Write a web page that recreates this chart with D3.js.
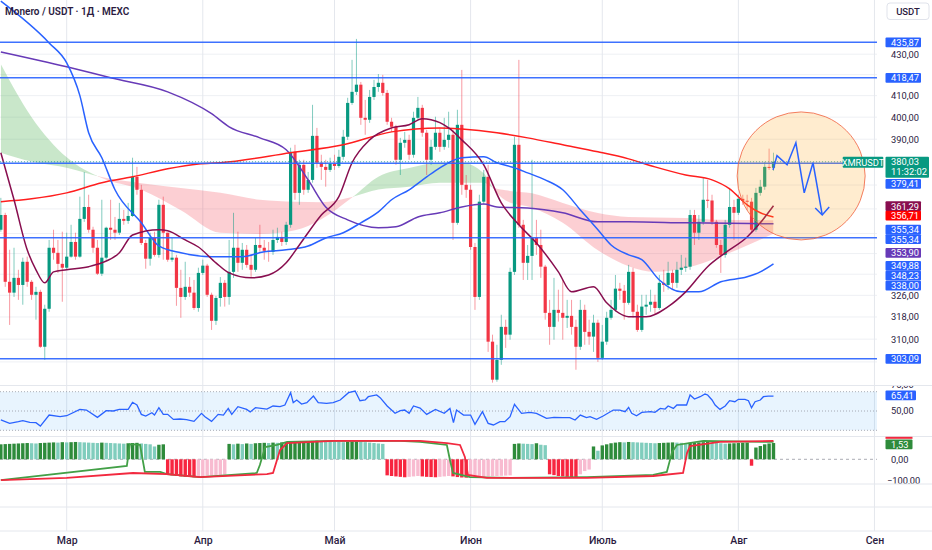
<!DOCTYPE html>
<html>
<head>
<meta charset="utf-8">
<script src="https://cdn.jsdelivr.net/npm/d3@7"></script>
<style>
  body { margin: 0; background: #fff; }
  svg { display: block; font-family: Roboto, "Noto Sans", sans-serif; }
</style>
</head>
<body>
<script>
// ---------- data ----------
// daily candles, first one is 14 Feb 2025 (day -15 from 1 Mar)
const firstDay = -15;
const firstOpen = 351.5;
const closes = [
  357.5, 331.1, 327.0, 332.6, 329.9, 338.8, 331.1, 326.2, 327.3, 307.3,
  321.0, 344.3, 342.3, 338.0, 336.5, 340.8, 346.6, 340.8, 355.9, 360.8,
  351.5, 344.3, 334.2, 340.4, 352.3, 351.5, 350.3, 355.9, 355.1, 357.1,
  373.5, 368.0, 346.2, 340.0, 348.2, 341.5, 361.7, 350.3, 339.6, 340.4,
  328.8, 325.4, 329.2, 327.0, 321.3, 334.5, 337.3, 326.2, 316.6, 325.0,
  330.7, 325.4, 334.9, 344.3, 338.4, 343.5, 337.6, 335.7, 345.4, 344.3,
  343.1, 342.7, 347.4, 348.6, 346.6, 353.5, 384.4, 366.7, 378.7, 368.0,
  372.2, 391.5, 379.6, 377.8, 376.5, 379.1, 378.2, 382.2, 391.1, 406.6,
  411.8, 415.2, 399.7, 398.8, 409.4, 414.1, 416.1, 411.3, 397.9, 395.6,
  380.9, 388.4, 389.7, 383.1, 399.7, 404.3, 392.9, 380.9, 386.6, 392.9,
  386.6, 389.7, 392.0, 354.3, 396.5, 370.1, 368.0, 344.6, 325.4, 363.0,
  373.5, 309.1, 295.9, 302.7, 314.4, 311.6, 334.9, 387.5, 353.5, 338.4,
  341.1, 348.2, 345.4, 336.9, 319.5, 314.4, 320.6, 319.5, 317.7, 318.4,
  314.4, 307.3, 320.6, 312.6, 310.9, 315.9, 303.4, 309.1, 317.7, 320.6,
  328.5, 327.7, 323.2, 334.9, 319.9, 313.3, 321.8, 322.5, 323.6, 321.3,
  330.7, 329.9, 334.5, 330.7, 335.7, 336.5, 336.9, 357.5, 350.3, 354.7,
  363.8, 363.5, 354.7, 345.4, 341.5, 353.5, 360.8, 358.4, 364.2, 363.4,
  363.0, 351.5, 366.7, 369.3, 377.8, 377.4, 380.03
];
const highs = [
  364.6, 358.4, 343.5, 344.3, 335.7, 340.4, 340.8, 331.8, 329.2, 328.1,
  322.5, 347.4, 351.5, 347.4, 350.7, 350.3, 353.5, 350.3, 365.1, 375.6,
  365.9, 352.7, 347.4, 363.8, 352.7, 363.8, 356.7, 362.5, 359.6, 362.5,
  381.8, 377.8, 370.1, 347.4, 350.3, 350.7, 363.8, 365.1, 350.3, 348.2,
  341.5, 335.7, 338.8, 332.9, 331.8, 336.5, 339.6, 338.0, 327.0, 325.8,
  332.9, 331.8, 347.4, 358.4, 350.7, 346.2, 345.4, 341.5, 348.2, 353.5,
  347.4, 346.6, 351.5, 352.3, 350.7, 354.7, 386.2, 387.5, 380.9, 380.9,
  375.6, 405.7, 395.1, 383.1, 380.9, 381.8, 383.1, 385.3, 394.2, 409.0,
  427.2, 437.6, 416.5, 408.0, 412.7, 417.5, 420.3, 419.9, 412.7, 399.7,
  396.5, 390.6, 393.3, 392.0, 402.5, 409.4, 405.7, 394.2, 389.7, 400.2,
  395.1, 399.7, 402.5, 394.2, 403.4, 422.3, 374.3, 370.1, 346.2, 365.9,
  376.5, 378.7, 311.6, 308.0, 318.8, 317.0, 336.5, 391.1, 427.2, 355.5,
  345.4, 380.9, 355.5, 351.5, 337.6, 324.3, 332.6, 328.1, 331.8, 324.3,
  324.3, 317.0, 324.3, 322.5, 317.0, 318.8, 317.0, 315.1, 319.9, 324.3,
  333.7, 330.7, 329.9, 337.6, 336.5, 322.5, 326.2, 326.2, 328.1, 326.2,
  333.7, 335.7, 338.8, 335.7, 338.8, 341.5, 340.4, 359.6, 359.6, 357.5,
  373.1, 372.2, 365.9, 355.5, 347.4, 355.5, 368.8, 363.8, 365.9, 365.9,
  365.9, 364.6, 368.8, 372.2, 380.0, 385.8, 384.0
];
const lows = [
  350.7, 329.2, 315.1, 325.4, 324.3, 322.5, 329.2, 324.3, 317.0, 306.9,
  302.7, 319.9, 339.6, 334.5, 323.6, 335.7, 340.4, 339.6, 340.4, 354.7,
  350.3, 342.3, 333.7, 333.3, 339.6, 347.4, 347.4, 349.4, 353.5, 353.9,
  356.7, 365.9, 345.4, 336.1, 337.3, 340.8, 340.4, 339.6, 338.8, 338.8,
  322.1, 317.7, 324.3, 325.4, 320.6, 319.9, 333.7, 325.4, 313.3, 315.1,
  321.8, 321.8, 322.5, 332.6, 334.9, 335.7, 336.5, 332.6, 334.9, 342.7,
  339.6, 338.8, 341.5, 346.2, 345.0, 345.4, 352.3, 363.8, 361.7, 365.9,
  366.7, 371.0, 377.4, 372.2, 369.3, 375.6, 376.5, 377.4, 380.9, 389.7,
  405.7, 410.3, 396.5, 392.0, 397.4, 408.0, 411.8, 410.0, 396.5, 393.3,
  378.7, 374.3, 386.2, 380.9, 381.8, 398.8, 391.1, 374.3, 378.7, 385.3,
  384.4, 385.3, 386.2, 347.4, 353.5, 365.9, 364.6, 343.5, 320.6, 324.3,
  361.7, 305.5, 294.9, 295.2, 301.0, 306.9, 309.8, 333.7, 352.3, 331.8,
  331.8, 331.8, 341.5, 332.6, 317.0, 308.0, 309.8, 316.3, 309.8, 314.0,
  311.6, 299.3, 306.2, 308.0, 308.0, 305.5, 302.0, 302.7, 308.0, 317.0,
  319.9, 324.3, 317.0, 322.5, 317.7, 312.6, 312.6, 318.8, 319.9, 318.8,
  320.6, 327.3, 328.1, 328.1, 328.8, 333.7, 334.9, 335.7, 345.4, 347.4,
  353.5, 360.4, 353.5, 344.3, 334.5, 340.4, 352.3, 347.4, 357.5, 361.7,
  359.6, 350.3, 350.7, 365.5, 368.0, 376.5, 376.1
];

// moving averages, sampled as [day from 1 Mar, price]
const maBlue = [[-15, 457], [-4, 435.6], [0, 425.7], [3, 410.0], [5, 392.9], [8, 381.8],
  [11, 368.0], [17, 354.3], [21, 345.0], [26, 342.3], [33, 340.8], [40, 340.8],
  [45, 342.7], [50, 343.5], [55, 345.0], [59, 348.2], [63, 350.3], [67, 354.3],
  [71, 358.8], [74, 363.8], [78, 368.0], [82, 373.5], [85, 377.4], [90, 381.8],
  [95, 382.2], [98, 379.6], [102, 377.4], [105, 375.2], [109, 372.2], [113, 368.0],
  [117, 359.6], [121, 351.5], [124, 345.4], [128, 341.5], [131, 339.6], [135, 331.8],
  [140, 327.3], [144, 327.3], [149, 331.1], [155, 333.0], [158, 334.9], [161, 338.0]];
const maPurple = [[-15, 431.1], [0, 423.8], [10, 418.5], [23, 411.8], [33, 401.6],
  [37, 395.6], [44, 390.6], [50, 385.3], [55, 372.2], [59, 360.8], [64, 355.5],
  [71, 352.3], [75, 352.7], [80, 356.7], [85, 358.4], [90, 360.8], [95, 362.0],
  [98, 360.8], [105, 360.4], [113, 358.4], [121, 354.7], [128, 354.7], [141, 354.3],
  [161, 353.9]];
const maRed = [[-15, 363.0], [-8, 364.2], [0, 366.7], [8, 371.0], [15, 373.5],
  [23, 377.0], [30, 379.1], [35, 379.6], [51, 384.0], [63, 387.5], [74, 393.3],
  [85, 395.1], [90, 394.6], [98, 392.9], [105, 390.6], [113, 387.5], [121, 384.4],
  [128, 381.3], [134, 377.8], [141, 374.3], [147, 372.2], [151, 368.4], [155, 361.7],
  [158, 358.4], [161, 356.7]];
const maMaroon = [[-15, 384.0], [-12, 363.8], [-9, 343.5], [-7, 335.7], [-5, 330.7],
  [-3, 334.9], [0, 335.7], [5, 336.9], [8, 338.4], [12, 342.3], [15, 349.4],
  [21, 351.5], [23, 351.1], [27, 347.4], [30, 344.6], [34, 338.4], [37, 334.5],
  [42, 332.6], [46, 333.7], [50, 338.4], [53, 345.4], [58, 357.5], [62, 365.1],
  [65, 379.6], [69, 389.7], [74, 395.1], [78, 396.5], [81, 399.3], [85, 397.5],
  [87, 395.1], [90, 389.7], [95, 378.7], [99, 362.5], [103, 353.5], [107, 346.2],
  [112, 334.9], [115, 327.3], [120, 329.2], [123, 323.2], [128, 318.1], [132, 318.1],
  [137, 321.8], [141, 327.3], [146, 336.9], [150, 342.3], [155, 348.6], [158, 354.3],
  [161, 361.3]];

// cloud between a fast and a slow average
const cloudDays = [-15, -8, 0, 8, 17, 26, 35, 44, 52, 58, 65, 71, 78, 85, 90, 95, 97,
  100, 106, 113, 121, 128, 134, 141, 149, 156, 161];
const cloudFast = [425, 400, 382, 373, 368, 359.5, 350.3, 349.8, 351.3, 355.8, 364.8,
  373.6, 377.3, 379.6, 379.6, 375, 369, 363.5, 360.5, 354.3, 343.3, 337.1, 334.9,
  336.4, 340.9, 346, 349.9];
const cloudSlow = [384, 380.1, 377.4, 373.4, 370.8, 368.8, 366.7, 363.8, 363, 362.8,
  365, 368.1, 369.3, 371, 371, 371, 369, 367.8, 366.5, 362.5, 358.3, 356.7, 356.5,
  356.3, 355.5, 355.4, 355.3];

// horizontal levels
const levels = [435.87, 418.47, 379.41, 348.23, 303.09];

// drawn forecast path and circle centre [day, price]
const forecast = [[160.9, 376.5], [161.8, 382.7], [164.1, 378.7], [166.1, 388.4],
  [168.0, 366.7], [170.0, 379.6], [172.1, 357.5]];
const circleCentre = [167.3, 373.9];

// RSI [day, value]
const rsi = [[-15, 40.7], [-13, 37.2], [-11, 38.9], [-10, 40.0], [-8.4, 38.2], [-7, 37.9],
  [-6, 34.4], [-4, 45.8], [-1.5, 44.1], [0, 45.1], [3, 51.7], [4.5, 51.0], [7, 43.4],
  [9, 50.3], [10.6, 50.0], [12, 51.7], [14, 51.7], [15, 59.0], [16, 56.2], [17, 46.5],
  [18, 44.8], [19.4, 48.2], [20, 45.8], [21, 53.4], [22, 46.5], [23, 46.5], [24.3, 41.3],
  [25.8, 41.7], [27.3, 41.0], [29, 39.3], [30.7, 47.6], [31.5, 44.1], [33, 39.3],
  [34.5, 46.5], [35.7, 45.8], [36.8, 52.7], [37.6, 46.5], [39, 54.5], [41, 51.7],
  [41.8, 49.0], [43, 53.4], [45.6, 52.0], [47, 55.2], [48.6, 54.5], [49.7, 56.2],
  [51, 69.0], [51.6, 58.6], [52.4, 61.4], [53.5, 57.2], [54.7, 58.6], [56.2, 65.5],
  [57.3, 58.6], [59.2, 57.9], [60.7, 58.6], [62.3, 61.4], [64.2, 69.0], [65.7, 70.7],
  [66.8, 60.7], [68, 61.4], [68.7, 64.8], [70.6, 66.6], [71.4, 63.8], [73, 55.2],
  [74.8, 47.6], [76, 50.3], [77, 51.0], [78, 47.6], [79, 55.2], [80.5, 53.0], [82, 46.5],
  [84, 51.7], [86, 47.6], [87.3, 52.7], [88.1, 37.9], [88.8, 51.0], [90.4, 45.8],
  [92, 45.8], [93, 36.2], [94.7, 49.3], [96, 37.2], [97.2, 35.5], [98.7, 38.9],
  [99.8, 38.9], [101, 44.1], [102, 56.9], [103.6, 47.6], [105.5, 48.6], [107, 47.6],
  [109.3, 42.4], [111, 43.4], [113, 43.1], [114.6, 43.1], [115.8, 40.7], [117, 45.8],
  [118.4, 43.1], [119.2, 44.1], [120.7, 41.3], [122.2, 44.8], [124.5, 51.0], [126, 51.0],
  [127.2, 49.3], [128, 53.8], [128.7, 47.6], [129.8, 45.1], [131, 48.6], [133, 49.3],
  [134, 48.6], [135.2, 52.7], [136.3, 52.0], [137, 55.2], [138.2, 52.7], [139, 56.2],
  [141.2, 56.2], [142, 66.6], [143, 62.4], [144.3, 64.8], [145.4, 67.6], [146, 66.6],
  [147, 61.4], [147.7, 56.2], [148.8, 51.7], [150, 55.2], [151, 60.7], [152.2, 59.6],
  [153, 62.1], [154.5, 62.1], [155.3, 60.7], [156, 53.4], [156.8, 59.6], [158, 61.4],
  [158.7, 64.8], [159.8, 65.5], [161, 65.41]];

// lower oscillator histogram, one bar per candle
const hist = [
  70, 71, 72, 73, 74, 75, 76, 75, 74, 76, 77, 78, 79, 78, 80, 79, 80, 81, 80, 79,
  78, 77, 76, 78, 77, 76, 75, 74, 73, 75, 76, 77, 74, 72, 70, 60, 68, 70,
  -70, -75, -78, -80, -82, -83, -84, -80, -78, -76, -75, -74, -73, -72,
  72, 70, 73, 71, 74, 72, 75, 76, 77, 76, 78, 77, 79, 80, 81, 82, 83, 84, 85, 86, 87,
  85, 84, 83, 82, 81, 80, 82, 83, 84, 82, 80, 78, 76, 74, 72,
  -75, -78, -80, -82, -84, -82, -80, -78, -80, -82, -83, -84, -82, -80, -78,
  -80, -83, -85, -86, -84, -83, -82, -81, -80, -79, -78, -77, -76, -75,
  72, 74, 73, 72, 71, 75, 68, 66, -70, -74, -78, -80, -82, -83, -84, -70, -55, -48,
  60, 40, 65, 70, 75, 78, 80, 79, 81, 80, 79, 78, 77, 76, 75, 76, 77, 78, 79,
  78, 77, 76, 77, 78, 79, 80, 81, 78, 76, 75, 73, 74, 75, 76, 77, 78, -30,
  55, 62, 70, 74, 76
];
// oscillator signal lines [day, value]
const oscGreen = [[-15, -97], [13.7, -31], [14.4, 71], [16.7, 67], [17.8, -59], [21.3, -59],
  [22.8, -69], [30.4, -83], [43.3, -64], [44, -27], [45.2, 57], [47.9, 67], [50.2, 81],
  [60.7, 86], [75.9, 86], [80.5, 81], [86.6, 67], [87.3, -3], [88, -64], [91.9, -83],
  [101, -87], [118.5, -83], [133.6, -73], [136.7, -59], [137.9, 34], [139, 67],
  [145, 86], [161, 81]];
const oscRed = [[-15, -97], [0, -87], [15.1, -64], [22.8, -69], [30.4, -83], [45.6, -69],
  [47, -64], [48.6, 43], [50.2, 76], [60.7, 86], [75.9, 86], [80.5, 86], [86.6, 76],
  [89.6, 67], [90.7, 11], [91.4, -73], [95.7, -87], [118.5, -87], [133.6, -78],
  [140.4, -64], [141.3, 29], [142, 62], [148.8, 81], [161, 86]];

const monthNames = ["Мар", "Апр", "Май", "Июн", "Июль", "Авг", "Сен"];
const priceTicks = [430, 420, 410, 400, 390, 380, 370, 360, 350, 342, 334, 326, 318, 310, 302];
const shownTicks = [430, 410, 400, 390, 326, 318, 310];

// ---------- layout ----------
const W = 932, H = 550, plotW = 877;
const mainTop = 0, mainBottom = 385;
const rsiTop = 386, rsiBottom = 436;
const oscTop = 437, oscBottom = 484;
const textColor = "#2b1b3f";
const up = "#089981", down = "#f23645";
const blue = "#2962ff";
const tagFont = 9.3;

const mar1 = Date.UTC(2025, 2, 1);
const at = d => new Date(mar1 + d * 864e5);

const x = d3.scaleUtc().domain([at(-15), at(184)]).range([0.85, 874.46]);
const y = d3.scaleLog().domain([294.1, 457.6]).range([mainBottom, mainTop]);
const yRsi = d3.scaleLinear().domain([30, 70]).range([430.3, 391.7]);
const yOsc = d3.scaleLinear().domain([-100, 100]).range([480.7, 437.9]);

const svg = d3.select("body").append("svg")
  .attr("width", W).attr("height", H);

const defs = svg.append("defs");
defs.append("clipPath").attr("id", "clipMain")
  .append("rect").attr("x", 0).attr("y", mainTop).attr("width", plotW).attr("height", mainBottom - mainTop);
defs.append("clipPath").attr("id", "clipRsi")
  .append("rect").attr("x", 0).attr("y", rsiTop).attr("width", W).attr("height", rsiBottom - rsiTop);
defs.append("clipPath").attr("id", "clipOsc")
  .append("rect").attr("x", 0).attr("y", oscTop).attr("width", W).attr("height", oscBottom - oscTop - 0.5);

// ---------- grid ----------
const grid = svg.append("g");
grid.selectAll("line.h")
  .data(priceTicks)
  .join("line")
  .attr("x1", 0).attr("x2", plotW)
  .attr("y1", d => y(d)).attr("y2", d => y(d))
  .attr("stroke", "#eef0f4");

const monthStarts = d3.utcMonth.range(at(0), at(185));
grid.selectAll("line.v")
  .data(monthStarts)
  .join("line")
  .attr("x1", d => x(d)).attr("x2", d => x(d))
  .attr("y1", 0).attr("y2", 531)
  .attr("stroke", "#e4e7ed");

[385.5, 436.5, 484, 507, 531].forEach(v => {
  svg.append("line").attr("x1", 0).attr("x2", W).attr("y1", v).attr("y2", v)
    .attr("stroke", "#e4e7ed");
});

// ---------- main panel ----------
const main = svg.append("g").attr("clip-path", "url(#clipMain)");

// cloud: green where fast is above slow, pink where slow is above fast
const cloud = cloudDays.map((d, i) => ({ d, f: cloudFast[i], s: cloudSlow[i] }));
const curve = d3.curveMonotoneX;
defs.append("clipPath").attr("id", "aboveSlow").append("path")
  .attr("d", d3.area().curve(curve).x(p => x(at(p.d))).y0(0).y1(p => y(p.s))(cloud));
defs.append("clipPath").attr("id", "aboveFast").append("path")
  .attr("d", d3.area().curve(curve).x(p => x(at(p.d))).y0(0).y1(p => y(p.f))(cloud));

main.append("path")
  .attr("clip-path", "url(#aboveSlow)")
  .attr("d", d3.area().curve(curve).x(p => x(at(p.d))).y0(p => y(p.f)).y1(mainBottom)(cloud))
  .attr("fill", "rgba(76,175,80,0.3)");
main.append("path")
  .attr("clip-path", "url(#aboveFast)")
  .attr("d", d3.area().curve(curve).x(p => x(at(p.d))).y0(p => y(p.s)).y1(mainBottom)(cloud))
  .attr("fill", "rgba(242,54,69,0.24)");

// candles
const candles = closes.map((c, i) => {
  const o = i ? closes[i - 1] : firstOpen;
  return {
    d: firstDay + i, o, c,
    h: Math.max(highs[i], o, c),
    l: Math.min(lows[i], o, c)
  };
});

main.append("g")
  .selectAll("line")
  .data(candles)
  .join("line")
  .attr("x1", d => x(at(d.d))).attr("x2", d => x(at(d.d)))
  .attr("y1", d => y(d.h)).attr("y2", d => y(d.l))
  .attr("stroke", d => d.c >= d.o ? up : down)
  .attr("stroke-opacity", 0.5)
  .attr("stroke-width", 1);

main.append("g")
  .selectAll("rect")
  .data(candles)
  .join("rect")
  .attr("x", d => x(at(d.d)) - 1.6)
  .attr("width", 3.2)
  .attr("y", d => y(Math.max(d.o, d.c)))
  .attr("height", d => Math.max(1, Math.abs(y(d.o) - y(d.c))))
  .attr("fill", d => d.c >= d.o ? up : down);

// moving averages
const maLine = d3.line().curve(d3.curveMonotoneX)
  .x(p => x(at(p[0]))).y(p => y(p[1]));
[[maPurple, "#673ab7"], [maRed, "#ff1e1e"], [maBlue, blue], [maMaroon, "#880e4f"]]
  .forEach(([pts, col]) => {
    main.append("path").attr("d", maLine(pts))
      .attr("fill", "none").attr("stroke", col).attr("stroke-width", 1.5);
  });

// horizontal levels
main.selectAll("line.level")
  .data(levels)
  .join("line")
  .attr("x1", 0).attr("x2", plotW)
  .attr("y1", d => y(d)).attr("y2", d => y(d))
  .attr("stroke", blue).attr("stroke-width", 1.5).attr("stroke-opacity", 0.9);

// last price line
const last = closes[closes.length - 1];
main.append("line")
  .attr("x1", 0).attr("x2", plotW)
  .attr("y1", y(last)).attr("y2", y(last))
  .attr("stroke", up).attr("stroke-dasharray", "1,2").attr("stroke-opacity", 0.7);

// forecast circle and path
main.append("circle")
  .attr("cx", x(at(circleCentre[0]))).attr("cy", y(circleCentre[1])).attr("r", 64)
  .attr("fill", "rgba(255,167,38,0.22)")
  .attr("stroke", "#f0603e").attr("stroke-width", 0.8);

main.append("path")
  .attr("d", d3.line().x(p => x(at(p[0]))).y(p => y(p[1]))(forecast))
  .attr("fill", "none").attr("stroke", blue).attr("stroke-width", 1.5);
const tip = forecast[forecast.length - 1];
const tx = x(at(tip[0])), ty = y(tip[1]);
main.append("path")
  .attr("d", `M${tx - 7},${ty - 7}L${tx},${ty}L${tx + 7},${ty - 8}`)
  .attr("fill", "none").attr("stroke", blue).attr("stroke-width", 1.5);

// ---------- RSI panel ----------
const rsiG = svg.append("g").attr("clip-path", "url(#clipRsi)");
rsiG.append("rect")
  .attr("x", 0).attr("width", plotW)
  .attr("y", yRsi(70)).attr("height", yRsi(30) - yRsi(70))
  .attr("fill", "rgba(33,150,243,0.1)");
[70, 50, 30].forEach(v => {
  rsiG.append("line").attr("x1", 0).attr("x2", plotW)
    .attr("y1", yRsi(v)).attr("y2", yRsi(v))
    .attr("stroke", "#9598a1").attr("stroke-dasharray", "1,2").attr("stroke-width", 0.8);
});
rsiG.append("path")
  .attr("d", d3.line().x(p => x(at(p[0]))).y(p => yRsi(p[1]))(rsi))
  .attr("fill", "none").attr("stroke", blue).attr("stroke-width", 1.3);

// ---------- oscillator panel ----------
const oscG = svg.append("g").attr("clip-path", "url(#clipOsc)");
oscG.append("line").attr("x1", 0).attr("x2", plotW)
  .attr("y1", yOsc(0)).attr("y2", yOsc(0))
  .attr("stroke", "#9598a1").attr("stroke-dasharray", "3,3").attr("stroke-width", 0.8);

const bars = hist.map((v, i) => ({ d: firstDay + i, v, prev: i ? hist[i - 1] : v }));
const barColor = b => {
  if (b.v >= 0) return b.v >= b.prev ? "#2e8b3b" : "#80cdbd";
  return b.v <= b.prev ? "#f7253f" : "#f8bbd0";
};
oscG.append("g")
  .selectAll("rect")
  .data(bars)
  .join("rect")
  .attr("x", b => x(at(b.d)) - 1.7)
  .attr("width", 3.4)
  .attr("y", b => Math.min(yOsc(b.v), yOsc(0)))
  .attr("height", b => Math.abs(yOsc(b.v) - yOsc(0)))
  .attr("fill", barColor);

const oscLine = d3.line().x(p => x(at(p[0]))).y(p => yOsc(p[1]));
oscG.append("path").attr("d", oscLine(oscGreen))
  .attr("fill", "none").attr("stroke", "#43a047").attr("stroke-width", 1.8);
oscG.append("path").attr("d", oscLine(oscRed))
  .attr("fill", "none").attr("stroke", "#f2293f").attr("stroke-width", 1.8);

// ---------- axes ----------
const xAxis = svg.append("g")
  .attr("transform", "translate(0,534)")
  .call(d3.axisBottom(x).tickValues(monthStarts).tickSize(0)
    .tickFormat((d, i) => monthNames[i]));
xAxis.select(".domain").remove();
xAxis.selectAll("text")
  .attr("fill", textColor).attr("font-size", 10.5).attr("font-weight", 500)
  .attr("font-family", "Roboto, sans-serif");

const fmt = v => v.toFixed(2).replace(".", ",");

const yAxis = svg.append("g")
  .attr("transform", "translate(885,0)")
  .call(d3.axisRight(y).tickValues(shownTicks).tickSize(0).tickFormat(fmt));
yAxis.select(".domain").remove();
yAxis.selectAll("text")
  .attr("x", 6).attr("fill", textColor).attr("font-size", tagFont)
  .attr("font-family", "Roboto, sans-serif");

// RSI axis: the 75 label sits half under the panel edge
const axisRsi = svg.append("g").attr("clip-path", "url(#clipRsi)");
[[75, "75,00", -2.2], [50, "50,00", 0]].forEach(([v, t, shift]) => {
  axisRsi.append("text").attr("x", 891).attr("y", yRsi(v) + shift).attr("dy", "0.35em")
    .attr("fill", textColor).attr("font-size", tagFont).text(t);
});
const axisOsc = svg.append("g").attr("clip-path", "url(#clipOsc)");
[[0, "0,00"], [-100, "−100,00"]].forEach(([v, t]) => {
  axisOsc.append("text").attr("x", v < 0 ? 887 : 891).attr("y", yOsc(v)).attr("dy", "0.35em")
    .attr("fill", textColor).attr("font-size", tagFont).text(t);
});

// ---------- price labels ----------
const tags = [
  { t: "435,87", c: blue, cy: y(435.87) },
  { t: "418,47", c: blue, cy: y(418.47) },
  { t: "379,41", c: blue, cy: 183.8 },
  { t: "361,29", c: "#880e4f", cy: 206.2 },
  { t: "356,71", c: "#ff0000", cy: 215.6 },
  { t: "355,34", c: blue, cy: 229.7 },
  { t: "355,34", c: blue, cy: 239.2 },
  { t: "353,90", c: "#673ab7", cy: 252.8 },
  { t: "349,88", c: blue, cy: 265.8 },
  { t: "348,23", c: blue, cy: 275.7 },
  { t: "338,00", c: blue, cy: 285.7 },
  { t: "303,09", c: blue, cy: y(303.09) },
  { t: "65,41", c: blue, cy: 395.4, w: 30.5 },
  { t: "1,53", c: "#2e8b3b", cy: 444.3, w: 27 }
];
// hidden tag peeking under the green one
svg.append("rect").attr("x", 885.5).attr("y", 436.8).attr("width", 27).attr("height", 2)
  .attr("fill", "#f2293f");

const tagG = svg.append("g");
tags.forEach(tg => {
  tagG.append("rect")
    .attr("x", 885.5).attr("y", tg.cy - 4.9)
    .attr("width", tg.w || 35.5).attr("height", 9.8)
    .attr("rx", 1).attr("fill", tg.c);
  tagG.append("text")
    .attr("x", 891).attr("y", tg.cy).attr("dy", "0.36em")
    .attr("fill", "#fff").attr("font-size", tagFont).text(tg.t);
});

// last price tag with countdown
tagG.append("rect").attr("x", 885.5).attr("y", y(last) - 5).attr("width", 43.5).attr("height", 21)
  .attr("rx", 1).attr("fill", up);
tagG.append("text").attr("x", 891).attr("y", y(last)).attr("dy", "0.36em")
  .attr("fill", "#fff").attr("font-size", tagFont).text(fmt(last));
tagG.append("text").attr("x", 891).attr("y", y(last) + 10).attr("dy", "0.36em")
  .attr("fill", "#fff").attr("font-size", tagFont).text("11:32:02");
tagG.append("rect").attr("x", 842.7).attr("y", y(last) - 5).attr("width", 40.6).attr("height", 11)
  .attr("rx", 1).attr("fill", up);
tagG.append("text").attr("x", 863).attr("y", y(last) + 0.5).attr("dy", "0.36em")
  .attr("text-anchor", "middle").attr("fill", "#fff").attr("font-size", tagFont).text("XMRUSDT");

// currency button
svg.append("rect").attr("x", 887).attr("y", 3).attr("width", 42).attr("height", 16.5)
  .attr("rx", 3).attr("fill", "#fff").attr("stroke", "#e0e3eb");
svg.append("text").attr("x", 908).attr("y", 11.5).attr("dy", "0.36em")
  .attr("text-anchor", "middle").attr("fill", textColor).attr("font-size", 9.5)
  .attr("font-weight", 500).text("USDT");

// title
svg.append("text").attr("x", 5).attr("y", 11.5).attr("dy", "0.36em")
  .attr("fill", textColor).attr("font-size", 10).attr("font-weight", 600)
  .text("Monero / USDT · 1Д · MEXC");
</script>
</body>
</html>
